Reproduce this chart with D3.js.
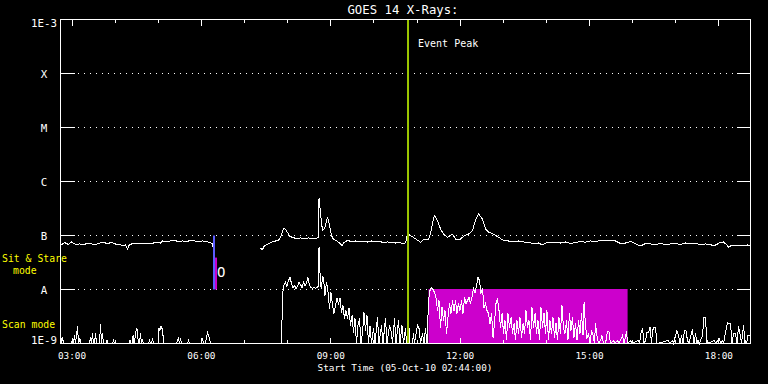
<!DOCTYPE html>
<html>
<head>
<meta charset="utf-8">
<script src="https://cdn.jsdelivr.net/npm/d3@7"></script>
<style>
  html, body { margin: 0; padding: 0; background: #000; }
  svg { display: block; }
  text { font-family: "DejaVu Sans Mono", monospace; fill: #fff; }
</style>
</head>
<body>
<svg width="768" height="384"></svg>
<script>
// GOES 14 X-ray flux, 05-Oct-2010, times are minutes after the 02:44 start
const startTime = new Date(Date.UTC(2010, 9, 5, 2, 44));
const spanMinutes = 960;

const levelValues = [1e-9, 1e-8, 1e-7, 1e-6, 1e-5, 1e-4, 1e-3];
const levelLabels = ["1E-9", "A", "B", "C", "M", "X", "1E-3"];

// long channel (1-8 A), before and after the data gap
const longPre = [
  [0,6.53e-8],[5.6,7.42e-8],[11.1,6.81e-8],[15.3,7.58e-8],[20.9,6.81e-8],[26.4,6.96e-8],[32,6.81e-8],
  [37.6,7.11e-8],[43.1,6.96e-8],[48.7,6.81e-8],[54.3,7.26e-8],[59.8,7.42e-8],[65.4,7.11e-8],[71,7.42e-8],
  [76.5,6.96e-8],[82.1,6.81e-8],[86.3,6.53e-8],[90.4,6.67e-8],[93.2,5.62e-8],[96,6.81e-8],[101.6,7.11e-8],
  [107.1,6.96e-8],[112.7,7.11e-8],[118.3,7.26e-8],[123.8,7.11e-8],[129.4,7.26e-8],[135,7.42e-8],[139.1,7.26e-8],
  [141.9,7.91e-8],[147.5,7.74e-8],[153,7.91e-8],[158.6,8.08e-8],[164.2,7.74e-8],[169.7,7.91e-8],[175.3,7.74e-8],
  [180.9,8.08e-8],[186.4,7.91e-8],[192,7.74e-8],[197.6,7.91e-8],[203.1,7.74e-8],[207.3,7.42e-8],[211.5,7.11e-8],
  [212.9,5.27e-8],[214.3,3.75e-8]
];
const longPost = [
  [276.9,5.9e-8],[281,5.51e-8],[283.8,6.53e-8],[289.4,7.0e-8],[293.6,7.5e-8],[299.1,7.91e-8],[303.3,8.08e-8],
  [306.1,9.3e-8],[308.9,1.19e-7],[311,1.38e-7],[313,1.3e-7],[315.8,1.14e-7],[318.6,9.8e-8],[322.8,9.18e-8],
  [328.3,8.8e-8],[333.9,9.0e-8],[339.5,8.7e-8],[345,9.0e-8],[350.6,8.7e-8],[356.2,8.8e-8],[358.3,9.18e-8],
  [359.7,5.0e-7],[361.7,2.55e-7],[364.5,1.24e-7],[366.6,1.3e-7],[368.7,1.53e-7],[371.5,2.2e-7],[374.3,1.53e-7],
  [377,1.0e-7],[379.8,8.43e-8],[384,8.08e-8],[388.2,7.26e-8],[391.6,6.53e-8],[393.7,7.3e-8],[399.3,8.08e-8],
  [404.8,7.74e-8],[410.4,7.91e-8],[416,7.58e-8],[421.5,7.74e-8],[427.1,7.58e-8],[432.7,7.91e-8],[438.3,7.58e-8],
  [443.8,7.74e-8],[449.4,7.42e-8],[455,7.58e-8],[460.5,7.42e-8],[466.1,7.26e-8],[471.7,7.42e-8],[475.8,7.0e-8],
  [480,7.3e-8],[482.8,1.06e-7],[487,1.0e-7],[491.1,9.18e-8],[495.3,8.43e-8],[500.9,7.5e-8],[505,8.3e-8],
  [512,8.43e-8],[514.8,1.09e-7],[517.6,1.67e-7],[520.3,2.35e-7],[524.5,1.9e-7],[528.7,1.33e-7],[532.9,1.06e-7],
  [538.4,9.3e-8],[542.6,1.0e-7],[545.4,1.06e-7],[549.6,8.6e-8],[556.5,8.6e-8],[562.1,1.0e-7],[567.7,1.06e-7],
  [573.2,1.24e-7],[577.4,1.9e-7],[581.6,2.5e-7],[587.1,2.03e-7],[591.3,1.33e-7],[595.5,1.16e-7],[602.4,1.06e-7],
  [609.4,9.3e-8],[616.3,8.08e-8],[623.3,7.91e-8],[630.3,7.58e-8],[637.2,7.91e-8],[644.2,7.58e-8],[651.1,7.42e-8],
  [658.1,7.11e-8],[665,7.26e-8],[670.6,6.7e-8],[676.2,7.42e-8],[681.7,7.26e-8],[688.7,7.5e-8],[695.7,7.26e-8],
  [702.6,7.58e-8],[709.6,7.11e-8],[716.5,7.42e-8],[723.5,7.74e-8],[730.4,7.5e-8],[737.4,7.91e-8],[744.3,7.74e-8],
  [751.3,8.08e-8],[758.3,7.91e-8],[765.2,8.08e-8],[772.2,7.91e-8],[779.1,7.11e-8],[786.1,7.26e-8],[793,7.74e-8],
  [797.2,7.42e-8],[802.8,6.67e-8],[808.3,6.53e-8],[813.9,7.11e-8],[820.9,6.96e-8],[827.8,6.81e-8],[834.8,7.11e-8],
  [841.7,6.81e-8],[848.7,6.96e-8],[855.7,7.11e-8],[862.6,6.81e-8],[869.6,7.26e-8],[876.5,6.96e-8],[883.5,7.11e-8],
  [890.4,6.81e-8],[897.4,6.96e-8],[904.3,6.81e-8],[908.5,6.4e-8],[912.7,6.81e-8],[918.3,7.5e-8],[922.4,7.58e-8],
  [926.6,6.81e-8],[929.4,6.1e-8],[933.6,6.53e-8],[939.1,6.39e-8],[946.1,6.53e-8],[951.7,6.4e-8],[955.8,6.67e-8],
  [960,6.39e-8]
];

// short channel (0.5-4 A)
const shortPre = [
  [0,1.67e-9],[1.4,1e-9],[2.8,1.29e-9],[4.2,1e-9],[15.3,1e-9],[16.7,1.24e-9],[18.1,1e-9],[19.5,1.41e-9],
  [20.9,1e-9],[22.3,1.47e-9],[23.7,2.06e-9],[25,1e-9],[27.1,1.24e-9],[28.5,1e-9],[40.3,1e-9],[41.7,1.29e-9],
  [43.1,1e-9],[44.5,1.53e-9],[45.9,1e-9],[47.3,1e-9],[48.7,1.53e-9],[50.1,1e-9],[54.3,1e-9],[55.7,2.25e-9],
  [57,1e-9],[58.4,1.53e-9],[59.8,1e-9],[63.3,1e-9],[64.7,1.14e-9],[66.1,1e-9],[72.3,1e-9],[73.7,1.14e-9],
  [75.1,1e-9],[95.3,1e-9],[96.7,1.14e-9],[98.1,1e-9],[99.5,1e-9],[100.9,1.41e-9],[102.3,1e-9],[103,1e-9],
  [104.3,1.6e-9],[106.4,1.9e-9],[107.8,1.24e-9],[109.2,1e-9],[109.9,1e-9],[111.3,1.53e-9],[112.7,1e-9],
  [114.1,1.14e-9],[115.5,1e-9],[122.4,1e-9],[123.8,1.14e-9],[125.2,1e-9],[126.6,1e-9],[128,1.24e-9],
  [129.4,1e-9],[135.7,1e-9],[137,1.9e-9],[138.4,1.74e-9],[139.8,2.06e-9],[141.2,1.9e-9],[142.6,1.41e-9],
  [144,1e-9],[161.4,1e-9],[162.8,1.14e-9],[164.2,1.24e-9],[165.6,1e-9],[167,1.24e-9],[168.3,1e-9],
  [176.7,1e-9],[178.1,1.14e-9],[179.5,1e-9],[196.2,1e-9],[197.6,1.24e-9],[199,1e-9],[201.7,1e-9],
  [203.1,1.29e-9],[204.5,1.6e-9],[205.9,1.41e-9],[207.3,1.24e-9],[208.7,1e-9],[211.5,1e-9]
];
const shortPost = [
  [307.5,1e-9],[308.9,7.74e-9],[310.3,1.19e-8],[313,1.35e-8],[315.1,1.14e-8],[317.2,1.47e-8],[319.3,1.67e-8],
  [321.4,1.3e-8],[323.5,1.09e-8],[325.6,1.19e-8],[327.6,1.04e-8],[329.7,1.14e-8],[331.8,1.35e-8],[333.9,1.24e-8],
  [336,1.09e-8],[338.1,1.35e-8],[340.2,1.19e-8],[342.3,1.3e-8],[344.3,1.67e-8],[346.4,1.19e-8],[348.5,1.09e-8],
  [350.6,1.04e-8],[352.7,1.09e-8],[354.8,1.04e-8],[356.9,1.09e-8],[358.3,1.14e-8],[359.7,6.0e-8],[361.7,1.19e-8],
  [363.1,1.04e-8],[364.5,1.74e-8],[365.9,1.67e-8],[368,7.74e-9],[370.1,1.4e-8],[372.2,8.8e-9],[374.3,4.45e-9],
  [376.3,8.8e-9],[378.4,5.27e-9],[380.5,3.59e-9],[382.6,5.05e-9],[384.7,6.81e-9],[386.8,5.5e-9],[388.9,6.81e-9],
  [391,3.75e-9],[393,5.05e-9],[395.1,2.9e-9],[397.2,4.08e-9],[399.3,2.9e-9],[401.4,4.45e-9],[403.5,2.15e-9],
  [405.6,3.3e-9],[407.6,1.6e-9],[409.7,2.9e-9],[411.8,1e-9],[413.9,2.15e-9],[416,2.9e-9],[418.1,1e-9],
  [420.2,1.6e-9],[422.2,3.75e-9],[424.3,1.74e-9],[426.4,3.3e-9],[428.5,1e-9],[430.6,2.15e-9],[432.7,1e-9],
  [435.5,1.9e-9],[437.6,1e-9],[441,3.03e-9],[443.1,1e-9],[446.6,2.15e-9],[448.7,1e-9],[452.2,2.9e-9],
  [454.3,1e-9],[457.7,2.15e-9],[459.8,1.74e-9],[461.9,1e-9],[464.7,2.9e-9],[466.8,1e-9],[470.3,2.67e-9],
  [472.4,1e-9],[475.1,2.15e-9],[477.2,1e-9],[480,1.9e-9],[481.4,1e-9],[484.2,3.59e-9],[485.6,1e-9],
  [489.8,1e-9],[491.1,1.53e-9],[492.5,1e-9],[496.7,2.15e-9],[498.8,1.9e-9],[500.9,1e-9],[503.7,1.53e-9],
  [505.7,1e-9],[507.8,1.9e-9],[510,1e-9],[512,6.26e-9],[514.1,9.58e-9],[516.2,1.09e-8],[518.2,1.0e-8],
  [520.3,8.8e-9],[522.4,7.11e-9],[524.5,4.08e-9],[526.6,6.26e-9],[528.7,1.98e-9],[530.8,4.64e-9],[532.9,2.67e-9],
  [534.9,4.08e-9],[537,1.53e-9],[539.1,3.03e-9],[541.2,5.5e-9],[543.3,3.59e-9],[545.4,6.26e-9],[547.5,4.08e-9],
  [549.6,6.26e-9],[551.6,3.59e-9],[553.7,5.5e-9],[555.8,4.08e-9],[557.9,6.26e-9],[560,3.59e-9],[562.1,7.11e-9],
  [564.2,5.5e-9],[566.3,6.26e-9],[568.4,7.11e-9],[570.4,5.5e-9],[572.5,7.11e-9],[574.6,1.04e-8],[576.7,8.8e-9],
  [578.8,1.19e-8],[580.9,1.67e-8],[583,1.47e-8],[585,8.43e-9],[587.1,1.04e-8],[589.2,4.64e-9],[591.3,5.5e-9],
  [593.4,4.08e-9],[595.5,3.59e-9],[597.6,2.35e-9],[599.7,3.59e-9],[601.8,1.29e-9],[603.8,2.35e-9],[605.9,5.5e-9],
  [608,6.81e-9],[610.1,4.08e-9],[612.2,1.98e-9],[614.3,3.59e-9],[616.4,1.53e-9],[618.4,2.67e-9],[620.5,1.14e-9],
  [622.6,3.59e-9],[624.7,1.98e-9],[626.8,3.03e-9],[628.9,1.53e-9],[631,2.35e-9],[633,1.14e-9],[635.1,2.67e-9],
  [637.2,1.53e-9],[639.3,3.03e-9],[641.4,1.29e-9],[643.5,2.35e-9],[645.6,1.53e-9],[647.6,4.08e-9],[649.7,1.98e-9],
  [651.8,2.67e-9],[653.9,1.14e-9],[656,4.64e-9],[658.1,1.98e-9],[660.2,3.59e-9],[662.2,1.53e-9],[664.3,2.67e-9],
  [666.4,1.14e-9],[668.5,4.64e-9],[670.6,1.98e-9],[672.7,3.59e-9],[674.8,1.53e-9],[676.8,4.08e-9],[678.9,1.14e-9],
  [681,2.67e-9],[683.1,1.53e-9],[685.2,3.03e-9],[687.3,1.29e-9],[689.4,2.35e-9],[691.4,1.14e-9],[693.5,3.03e-9],
  [695.6,1.53e-9],[697.7,5.05e-9],[699.8,1.98e-9],[701.9,1.53e-9],[704,2.67e-9],[706,1.14e-9],[708.1,3.59e-9],
  [710.2,1.74e-9],[712.3,3.03e-9],[714.4,1.29e-9],[716.5,2.35e-9],[718.6,1.14e-9],[720.7,2.67e-9],[722.8,1.53e-9],
  [724.9,3.59e-9],[727,1.41e-9],[728.4,5.74e-9],[730.4,2.15e-9],[732.5,1.24e-9],[734.6,1.53e-9],[736.7,1e-9],
  [738.8,1.74e-9],[740.9,1.41e-9],[743,1e-9],[744.3,2.35e-9],[746.4,1.41e-9],[748.5,1e-9],[751.3,1.14e-9],
  [753.3,1.41e-9],[755.4,1e-9],[758.3,1e-9],[761,1.67e-9],[763.1,1.67e-9],[765.2,1e-9],[769.4,1.14e-9],
  [771.5,1e-9],[775,1.14e-9],[777.1,1e-9],[782,1.41e-9],[784.1,1e-9],[787.5,1.67e-9],[788.9,1e-9],
  [793,1.14e-9],[795.1,1e-9],[804.2,1.14e-9],[805.6,1e-9],[807.7,1.6e-9],[809.8,1.9e-9],[811.9,1e-9],
  [813.9,1.14e-9],[816,1.6e-9],[818.1,1.6e-9],[820.2,1.98e-9],[822.3,1e-9],[823.7,1.74e-9],[825.8,1.98e-9],
  [827.8,1.98e-9],[829.9,1e-9],[845.9,1.14e-9],[847.3,1e-9],[851.5,1.14e-9],[852.9,1e-9],[855.7,1.41e-9],
  [857.7,1.74e-9],[859.8,1.41e-9],[861.9,1e-9],[864,1.41e-9],[866.1,1e-9],[868.1,1.74e-9],[870.2,1.74e-9],
  [872.3,1.14e-9],[874.4,1e-9],[879.2,1.82e-9],[881.3,1e-9],[883.5,1.53e-9],[885.5,1e-9],[887,1.14e-9],
  [889,1e-9],[893.2,1.41e-9],[895.3,3.03e-9],[897.4,3.03e-9],[899.4,1e-9],[900.1,1.14e-9],[901.6,1e-9],
  [909.8,1.14e-9],[911.3,1e-9],[916.9,1.24e-9],[918.3,1e-9],[921.1,1.14e-9],[922.4,1e-9],[928,2.45e-9],
  [930.1,2.35e-9],[932.2,2.35e-9],[934.3,1e-9],[936.4,1.53e-9],[939.1,1.53e-9],[941.2,1e-9],[943.3,2.06e-9],
  [945.4,1.53e-9],[947.5,1e-9],[950.3,2.15e-9],[952.4,1e-9],[953.1,1.14e-9],[954.5,1e-9],[956.4,1.41e-9],
  [958.5,1.41e-9],[960,1.41e-9]
];

// markers
const eventPeakMinute = 483.5;
const sitStareMinute = 213.6;
const sitStareEndMinute = 216.4;
const sitStareTop = 1e-7, sitStareMid = 3.9e-8, sitStareBottom = 1e-8;
const scanWindow = [512, 789];
const scanRange = [1e-9, 1e-8];

const toDate = m => new Date(startTime.getTime() + m * 60000);

let svg = d3.select("svg");
svg.append("rect").attr("width", 768).attr("height", 384).attr("fill", "#000");

let x = d3.scaleUtc().domain([toDate(0), toDate(spanMinutes)]).range([60.5, 750.5]);
let y = d3.scaleLog().domain([1e-9, 1e-3]).range([343.5, 19.5]);

let hours = d3.utcHour.range(toDate(0), toDate(spanMinutes));
let threeHours = hours.filter(d => d.getUTCHours() % 3 === 0);

// dotted level lines
svg.append("g")
  .selectAll("line")
  .data(levelValues.slice(1, -1))
  .enter().append("line")
  .attr("x1", 78).attr("x2", 735)
  .attr("y1", d => y(d)).attr("y2", d => y(d))
  .attr("stroke", "#fff")
  .attr("stroke-dasharray", "1,5");

// scan mode window
svg.append("rect")
  .attr("x", x(toDate(scanWindow[0])))
  .attr("y", y(scanRange[1]) - 0.5)
  .attr("width", x(toDate(scanWindow[1])) - x(toDate(scanWindow[0])))
  .attr("height", y(scanRange[0]) - y(scanRange[1]))
  .attr("fill", "#cc00cc");

let line = d3.line()
  .x(d => x(toDate(d[0])))
  .y(d => y(Math.max(d[1], 1e-9)));

[longPre, longPost, shortPre, shortPost].forEach(s => {
  svg.append("path")
    .datum(s)
    .attr("d", line)
    .attr("fill", "none")
    .attr("stroke", "#fff")
    .attr("stroke-width", 1)
    .attr("shape-rendering", "crispEdges");
});

// sit & stare marker
svg.append("line")
  .attr("x1", x(toDate(sitStareMinute))).attr("x2", x(toDate(sitStareMinute)))
  .attr("y1", y(sitStareTop)).attr("y2", y(sitStareBottom))
  .attr("stroke", "#5c5cff").attr("stroke-width", 2);
svg.append("line")
  .attr("x1", x(toDate(sitStareEndMinute))).attr("x2", x(toDate(sitStareEndMinute)))
  .attr("y1", y(sitStareMid)).attr("y2", y(sitStareBottom))
  .attr("stroke", "#cc00cc").attr("stroke-width", 2);
svg.append("text")
  .attr("x", x(toDate(sitStareEndMinute)) + 1)
  .attr("y", 277)
  .style("font-size", "14px")
  .text("O");

// event peak
svg.append("line")
  .attr("x1", x(toDate(eventPeakMinute))).attr("x2", x(toDate(eventPeakMinute)))
  .attr("y1", y(1e-3)).attr("y2", y(1e-9))
  .attr("stroke", "#9cc800").attr("stroke-width", 2);
svg.append("text")
  .attr("x", x(toDate(eventPeakMinute)) + 10)
  .attr("y", 47)
  .style("font-size", "10px")
  .text("Event Peak");

// frame
svg.append("rect")
  .attr("x", 60.5).attr("y", 19.5)
  .attr("width", 690).attr("height", 324)
  .attr("fill", "none").attr("stroke", "#fff");

// time ticks, top and bottom, pointing inwards
function timeTicks(axis, vals, size, ty) {
  let g = svg.append("g")
    .attr("transform", "translate(0," + ty + ")")
    .call(axis(x).tickValues(vals).tickSize(size).tickFormat("").offset(0));
  g.select(".domain").remove();
  g.selectAll("line").attr("stroke", "#fff").attr("shape-rendering", "crispEdges");
}
timeTicks(d3.axisBottom, hours, 3.5, 19.5);
timeTicks(d3.axisBottom, threeHours, 6, 19.5);
timeTicks(d3.axisTop, hours, 3.5, 343.5);
timeTicks(d3.axisTop, threeHours, 6, 343.5);

// level ticks
let leftTicks = svg.append("g")
  .attr("transform", "translate(60.5,0)")
  .call(d3.axisRight(y).tickValues(levelValues).tickSize(14).tickFormat("").offset(0));
leftTicks.select(".domain").remove();
let rightTicks = svg.append("g")
  .attr("transform", "translate(750.5,0)")
  .call(d3.axisLeft(y).tickValues(levelValues).tickSize(14).tickFormat("").offset(0));
rightTicks.select(".domain").remove();
svg.selectAll(".tick line").attr("stroke", "#fff").attr("shape-rendering", "crispEdges");

// time labels
let xLabels = svg.append("g")
  .attr("transform", "translate(0,343)")
  .call(d3.axisBottom(x).tickValues(threeHours).tickSize(0).tickFormat(d3.utcFormat("%H:%M")).offset(0));
xLabels.select(".domain").remove();
xLabels.selectAll("text")
  .attr("y", 16).attr("dy", null)
  .attr("fill", "#fff")
  .style("font-size", "9.4px")
  .style("font-family", "DejaVu Sans Mono, monospace");

// level labels
let yLabels = svg.append("g")
  .attr("transform", "translate(44,0)")
  .call(d3.axisLeft(y).tickValues(levelValues).tickSize(0).tickPadding(0)
    .tickFormat((d, i) => levelLabels[i]).offset(0));
yLabels.select(".domain").remove();
yLabels.selectAll("text")
  .attr("x", 0)
  .attr("text-anchor", "middle")
  .attr("dy", null)
  .attr("y", d => Math.min(Math.max(4.5, 27 - y(d)), 344 - y(d)))
  .attr("fill", "#fff")
  .style("font-size", "10.8px")
  .style("font-family", "DejaVu Sans Mono, monospace");

// titles
svg.append("text")
  .attr("x", 403).attr("y", 14)
  .attr("text-anchor", "middle")
  .style("font-size", "12.3px")
  .text("GOES 14 X-Rays:");
svg.append("text")
  .attr("x", 405).attr("y", 371)
  .attr("text-anchor", "middle")
  .style("font-size", "9.4px")
  .text("Start Time (05-Oct-10 02:44:00)");

// mode labels
let modeLabels = svg.append("g").style("font-size", "9.8px");
modeLabels.append("text").attr("x", 2).attr("y", 262).style("fill", "#ffff00").text("Sit & Stare");
modeLabels.append("text").attr("x", 13).attr("y", 274).style("fill", "#ffff00").text("mode");
modeLabels.append("text").attr("x", 2).attr("y", 328).style("fill", "#ffff00").text("Scan mode");
</script>
</body>
</html>
